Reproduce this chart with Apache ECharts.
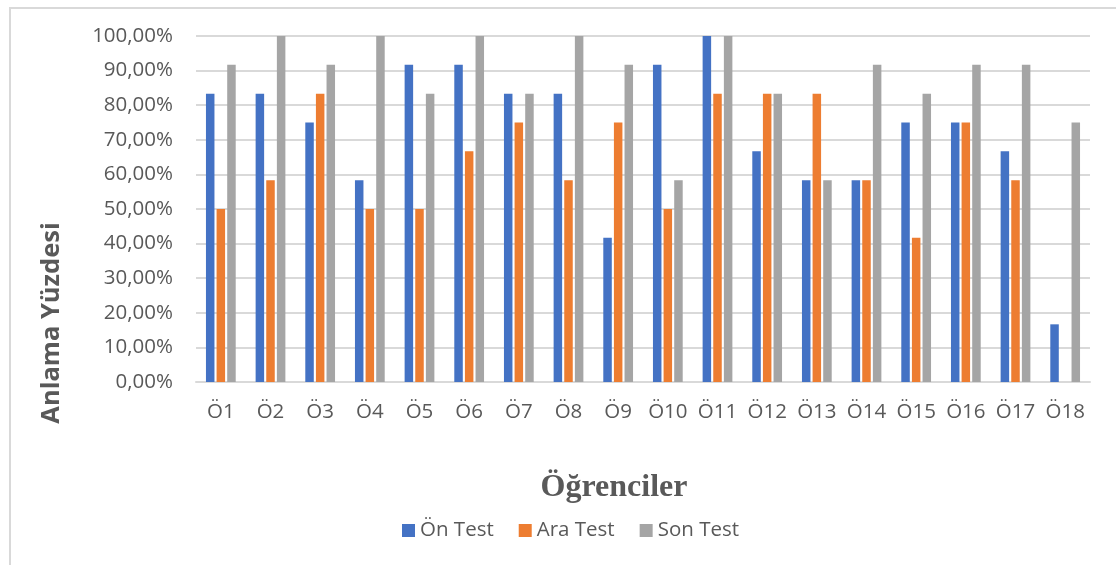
<!DOCTYPE html>
<html>
<head>
<meta charset="utf-8">
<script src="https://cdn.jsdelivr.net/npm/echarts@6/dist/echarts.min.js"></script>
<style>
html,body{margin:0;padding:0;background:#fff;}
#frame{position:absolute;left:9px;top:7px;width:1200px;height:700px;border-left:2px solid #d9d9d9;border-top:2px solid #d9d9d9;}
#chart{position:absolute;left:0;top:0;width:1116px;height:565px;}
</style>
</head>
<body>
<div id="frame"></div>
<div id="chart"></div>
<script>
const categories = ['Ö1','Ö2','Ö3','Ö4','Ö5','Ö6','Ö7','Ö8','Ö9','Ö10','Ö11','Ö12','Ö13','Ö14','Ö15','Ö16','Ö17','Ö18'];
const onTest   = [83.33, 83.33, 75, 58.33, 91.67, 91.67, 83.33, 83.33, 41.67, 91.67, 100, 66.67, 58.33, 58.33, 75, 75, 66.67, 16.67];
const araTest  = [50, 58.33, 83.33, 50, 50, 66.67, 75, 58.33, 75, 50, 83.33, 83.33, 83.33, 58.33, 41.67, 75, 58.33, 0];
const sonTest  = [91.67, 100, 91.67, 100, 83.33, 100, 83.33, 100, 91.67, 58.33, 100, 83.33, 58.33, 91.67, 83.33, 91.67, 91.67, 75];
const seriesNames = ['Ön Test', 'Ara Test', 'Son Test'];
const colors = ['#4472C4', '#ED7D31', '#A5A5A5'];

const font = '"Open Sans", "Noto Sans", sans-serif';
const chart = echarts.init(document.getElementById('chart'), null, {renderer: 'canvas'});
const mk = (name, data, color) => ({
  name, type: 'bar', data, barWidth: 8.5, barGap: '25%',
  itemStyle: {color}
});
chart.setOption({
  backgroundColor: 'transparent',
  animation: false,
  grid: {left: 196, right: 26, top: 36, bottom: 183, containLabel: false},
  legend: {
    data: seriesNames, top: 515, left: 397,
    icon: 'rect', itemWidth: 13, itemHeight: 13, itemGap: 25, itemTextGap: 6,
    textStyle: {fontFamily: font, fontSize: 20.5, color: '#595959'}
  },
  xAxis: {
    type: 'category', data: categories,
    axisLine: {lineStyle: {color: '#d9d9d9', width: 2}},
    axisTick: {show: false},
    axisLabel: {fontFamily: font, fontSize: 20.5, color: '#595959', margin: 20, interval: 0}
  },
  yAxis: {
    type: 'value', min: 0, max: 100, interval: 10,
    axisLine: {show: false}, axisTick: {show: false},
    splitLine: {lineStyle: {color: '#d9d9d9', width: 2}},
    axisLabel: {
      fontFamily: font, fontSize: 20.5, color: '#595959', margin: 23,
      formatter: v => v.toFixed(2).replace('.', ',') + '%'
    }
  },
  graphic: [
    {type: 'text', x: 52, y: 323, rotation: Math.PI/2, style: {
      text: 'Anlama Yüzdesi', fontFamily: font, fontWeight: 'bold', fontSize: 25.5, fill: '#595959',
      align: 'center', verticalAlign: 'middle'
    }},
    {type: 'text', x: 614, y: 488, style: {
      text: 'Öğrenciler', fontFamily: '"Liberation Serif", "Times New Roman", serif', fontWeight: 'bold',
      fontSize: 32, fill: '#595959', align: 'center', verticalAlign: 'middle'
    }}
  ],
  series: [
    mk(seriesNames[0], onTest, colors[0]),
    mk(seriesNames[1], araTest, colors[1]),
    mk(seriesNames[2], sonTest, colors[2])
  ]
});
</script>
</body>
</html>
